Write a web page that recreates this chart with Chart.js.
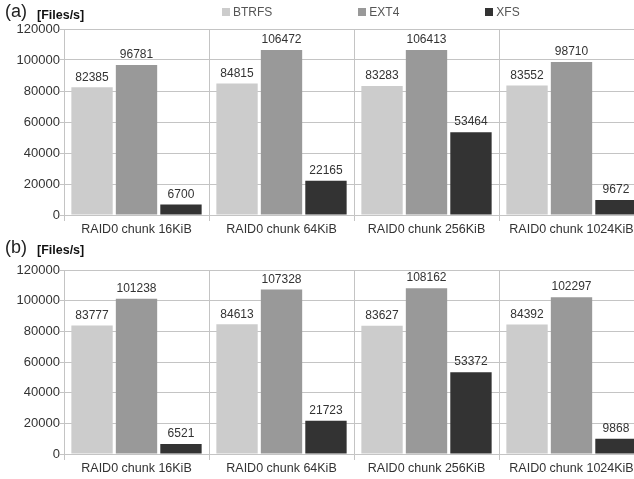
<!DOCTYPE html>
<html>
<head>
<meta charset="utf-8">
<script src="https://cdn.jsdelivr.net/npm/chart.js@4.4.1/dist/chart.umd.min.js"></script>
<style>
  html, body { margin: 0; padding: 0; background: #fff; }
  body { width: 634px; height: 479px; overflow: hidden; position: relative; font-family: "Liberation Sans", Arial, sans-serif; }
  canvas { position: absolute; left: 0; }
  #cA { top: 0; }
  #cB { top: 240px; }
  .panel { position: absolute; color: #222; font-size: 18px; }
  .unit { position: absolute; color: #111; font-size: 12.5px; font-weight: bold; }
  #legend { position: absolute; left: 222px; top: 5px; display: flex; gap: 86px; font-size: 12px; color: #555; }
  #legend .item { display: flex; align-items: center; }
  #legend .box { width: 8px; height: 8px; margin-right: 3px; }
</style>
</head>
<body>
<canvas id="cA" width="644" height="240"></canvas>
<canvas id="cB" width="644" height="239"></canvas>
<div class="panel" style="left:5px; top:1px;">(a)</div>
<div class="unit" style="left:37px; top:8px;">[Files/s]</div>
<div class="panel" style="left:5px; top:237px;">(b)</div>
<div class="unit" style="left:37px; top:243px;">[Files/s]</div>
<div id="legend"></div>
<script>
// Throughput per RAID0 chunk size, in files per second
const categories = ['RAID0 chunk 16KiB', 'RAID0 chunk 64KiB', 'RAID0 chunk 256KiB', 'RAID0 chunk 1024KiB'];
const seriesNames = ['BTRFS', 'EXT4', 'XFS'];
const seriesColors = ['#cccccc', '#999999', '#333333'];

// Panel (a)
const btrfsA = [82385, 84815, 83283, 83552];
const ext4A  = [96781, 106472, 106413, 98710];
const xfsA   = [6700, 22165, 53464, 9672];

// Panel (b)
const btrfsB = [83777, 84613, 83627, 84392];
const ext4B  = [101238, 107328, 108162, 102297];
const xfsB   = [6521, 21723, 53372, 9868];

const yTicks = [0, 20000, 40000, 60000, 80000, 100000, 120000];

const gridColor = '#c4c4c4';
const textColor = '#333333';
const fontFamily = '"Liberation Sans", Arial, sans-serif';

// Writes each bar's value just above it
const valueLabels = {
  id: 'valueLabels',
  afterDatasetsDraw(chart) {
    const ctx = chart.ctx;
    ctx.save();
    ctx.font = '12px ' + fontFamily;
    ctx.fillStyle = textColor;
    ctx.textAlign = 'center';
    ctx.textBaseline = 'bottom';
    chart.data.datasets.forEach((ds, i) => {
      chart.getDatasetMeta(i).data.forEach((bar, j) => {
        ctx.fillText(String(ds.data[j]), bar.x, bar.y - 4);
      });
    });
    ctx.restore();
  }
};

function makeChart(id, values, padTop) {
  return new Chart(document.getElementById(id), {
    type: 'bar',
    data: {
      labels: categories,
      datasets: values.map((v, i) => ({
        label: seriesNames[i],
        data: v,
        backgroundColor: seriesColors[i],
        borderWidth: 0,
        categoryPercentage: 0.92,
        barPercentage: 0.93
      }))
    },
    options: {
      responsive: false,
      animation: false,
      devicePixelRatio: 1,
      layout: { padding: { top: padTop, left: 0, right: 0, bottom: 0 } },
      plugins: { legend: { display: false }, tooltip: { enabled: false } },
      scales: {
        x: {
          grid: { color: gridColor, offset: true, tickLength: 6 },
          border: { color: gridColor },
          ticks: { color: textColor, font: { size: 12.5, family: fontFamily }, padding: 1, maxRotation: 0 },
          afterFit(scale) { scale.height = 25; }
        },
        y: {
          min: 0,
          max: 120000,
          afterBuildTicks(scale) { scale.ticks = yTicks.map(v => ({ value: v })); },
          grid: { color: gridColor, tickLength: 4 },
          border: { color: gridColor },
          ticks: {
            color: textColor,
            font: { size: 13, family: fontFamily },
            padding: 0,
            callback: v => String(v)
          },
          afterFit(scale) { scale.width = 64; }
        }
      }
    },
    plugins: [valueLabels]
  });
}

const chartA = makeChart('cA', [btrfsA, ext4A, xfsA], 29);
makeChart('cB', [btrfsB, ext4B, xfsB], 30);

// Legend built from the series of panel (a)
const legend = document.getElementById('legend');
chartA.data.datasets.forEach(ds => {
  const item = document.createElement('div');
  item.className = 'item';
  const box = document.createElement('span');
  box.className = 'box';
  box.style.background = ds.backgroundColor;
  const txt = document.createElement('span');
  txt.textContent = ds.label;
  item.appendChild(box);
  item.appendChild(txt);
  legend.appendChild(item);
});
</script>
</body>
</html>
